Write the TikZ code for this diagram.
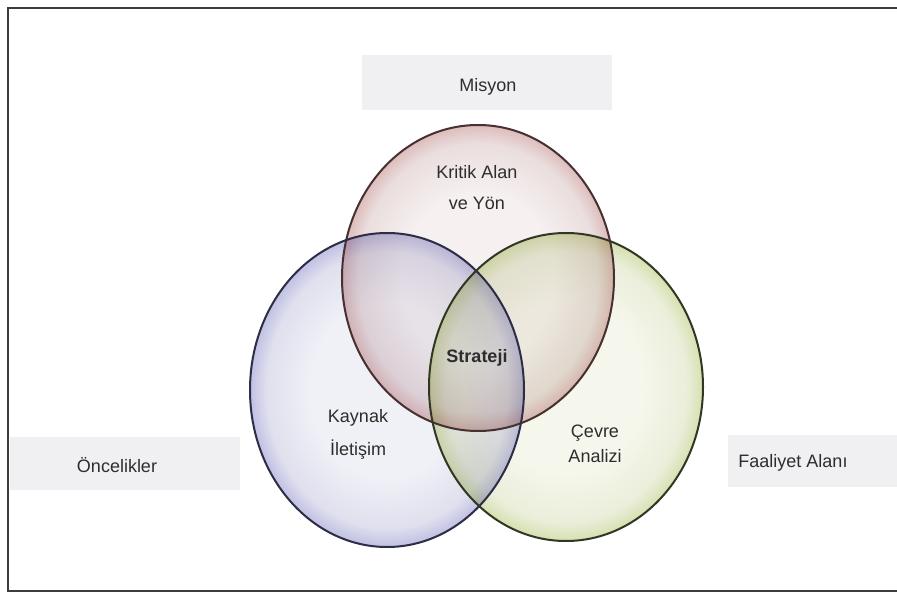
\documentclass[tikz,border=0pt]{standalone}
\usepackage{fontspec}
\setmainfont{Liberation Sans}
\definecolor{txt}{RGB}{45,45,45}
\definecolor{boxgray}{RGB}{240,240,242}
\definecolor{frameC}{RGB}{60,60,60}
\definecolor{redA}{RGB}{246,240,240}
\definecolor{redB}{RGB}{234,222,222}
\definecolor{redC}{RGB}{222,188,188}
\definecolor{bluA}{RGB}{240,240,247}
\definecolor{bluB}{RGB}{224,224,238}
\definecolor{bluC}{RGB}{192,192,228}
\definecolor{grnA}{RGB}{245,247,236}
\definecolor{grnB}{RGB}{234,238,218}
\definecolor{grnC}{RGB}{214,224,176}
\definecolor{redL}{RGB}{70,48,48}
\definecolor{bluL}{RGB}{45,45,70}
\definecolor{grnL}{RGB}{48,56,36}
\pgfdeclareradialshading{redbub}{\pgfpoint{0bp}{0bp}}{color(0bp)=(redA); color(14bp)=(redA); color(22bp)=(redB); color(25bp)=(redC); color(50bp)=(redC)}
\pgfdeclareradialshading{blubub}{\pgfpoint{0bp}{0bp}}{color(0bp)=(bluA); color(14bp)=(bluA); color(22bp)=(bluB); color(25bp)=(bluC); color(50bp)=(bluC)}
\pgfdeclareradialshading{grnbub}{\pgfpoint{0bp}{0bp}}{color(0bp)=(grnA); color(14bp)=(grnA); color(22bp)=(grnB); color(25bp)=(grnC); color(50bp)=(grnC)}
\tikzset{
  lbl/.style={font=\fontsize{18}{20}\selectfont, text=txt, inner sep=0pt},
  labelbox/.style={fill=boxgray, draw=none},
  bubble/.style={blend mode=multiply},
  rim/.style={line width=2pt}
}
\begin{document}
\begin{tikzpicture}[x=1pt,y=-1pt]
\useasboundingbox (0,0) rectangle (897,593);
\fill[white] (0,0) rectangle (897,593);
% frame
\draw[frameC, line width=2.5pt] (8,8) rectangle (905,591);
% label boxes
\fill[labelbox] (362,55) rectangle (612,110);
\fill[labelbox] (10,437) rectangle (240,490);
\fill[labelbox] (728,435) rectangle (900,487);
% bubbles
\shade[shading=redbub, bubble] (478,278) ellipse [x radius=136, y radius=153];
\shade[shading=blubub, bubble] (387,390) ellipse [x radius=137, y radius=157];
\shade[shading=grnbub, bubble] (566,387) ellipse [x radius=137, y radius=154];
\draw[rim, redL] (478,278) ellipse [x radius=136, y radius=153];
\draw[rim, bluL] (387,390) ellipse [x radius=137, y radius=157];
\draw[rim, grnL] (566,387) ellipse [x radius=137, y radius=154];
% texts
\node[lbl] (misyon) at (488,87) {Misyon};
\node[lbl] (kritik) at (477,172) {Kritik Alan};
\node[lbl] (veyon) at (477,203) {ve Yön};
\node[lbl, font=\fontsize{18}{20}\selectfont\bfseries] (strateji) at (477,358) {Strateji};
\node[lbl] (kaynak) at (358,418) {Kaynak};
\node[lbl] (iletisim) at (358,450) {İletişim};
\node[lbl] (cevre) at (595,433) {Çevre};
\node[lbl] (analizi) at (595,456) {Analizi};
\node[lbl] (oncelik) at (117,465) {Öncelikler};
\node[lbl] (faaliyet) at (793,463) {Faaliyet Alanı};
\end{tikzpicture}
\end{document}
